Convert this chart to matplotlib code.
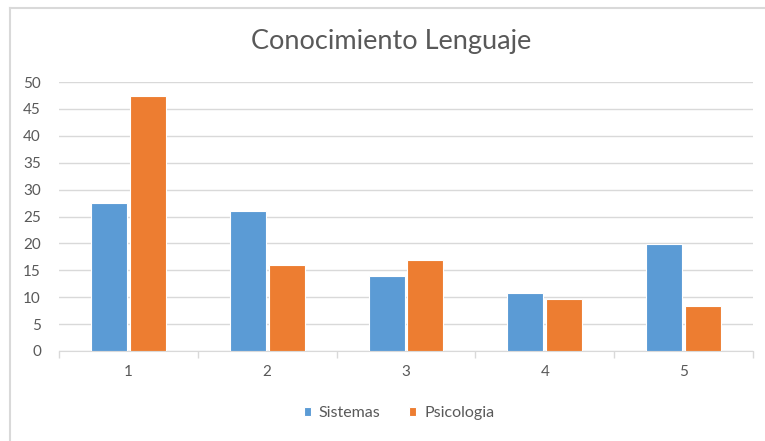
import matplotlib
matplotlib.use("Agg")
import matplotlib.pyplot as plt
from matplotlib.lines import Line2D
import numpy as np

# data
categories = ["1", "2", "3", "4", "5"]
sistemas = [27.5, 26.1, 14.0, 10.8, 19.9]
psicologia = [47.4, 15.9, 17.0, 9.7, 8.3]
yticks = [0, 5, 10, 15, 20, 25, 30, 35, 40, 45, 50]

plt.rcParams['font.family'] = ['Lato', 'DejaVu Sans']
txt = '#595959'
grid = '#D9D9D9'

fig = plt.figure(figsize=(7.65, 4.41), dpi=100)
W, H = 765, 441
ax = fig.add_axes([59 / W, 1 - 351 / H, (753 - 59) / W, (351 - 82) / H])

x = np.arange(len(categories))
w = 0.26
ax.bar(x - w / 2 - 0.01, sistemas, w, color='#5B9BD5', edgecolor='white', linewidth=0.8,
       label='Sistemas', zorder=3)
ax.bar(x + w / 2 + 0.01, psicologia, w, color='#ED7D31', edgecolor='white', linewidth=0.8,
       label='Psicologia', zorder=3)

ax.set_xlim(-0.5, len(categories) - 0.5)
ax.set_ylim(0, 50)
ax.set_yticks(yticks)
ax.set_xticks(x)
ax.set_xticklabels(categories)
ax.set_xticks(np.arange(-0.5, len(categories)), minor=True)
ax.yaxis.grid(True, color=grid, linewidth=1, zorder=0)
ax.tick_params(axis='y', length=0, labelsize=11, colors=txt, pad=13)
ax.tick_params(axis='x', which='major', length=0, labelsize=11, colors=txt, pad=10)
ax.tick_params(axis='x', which='minor', length=5, color=grid, width=1)
for s in ['top', 'right', 'left']:
    ax.spines[s].set_visible(False)
ax.spines['bottom'].set_color(grid)

fig.text(391 / W, 1 - 42 / H, 'Conocimiento Lenguaje', ha='center', va='center',
         fontsize=19.5, color=txt)

leg = fig.legend(loc='center', bbox_to_anchor=(399 / W, 1 - 413 / H), ncol=2, frameon=False,
                 fontsize=11.5, handlelength=0.45, handleheight=0.45, columnspacing=1.8,
                 handletextpad=0.5)
for t in leg.get_texts():
    t.set_color(txt)

# chart border (left and top only visible)
fig.add_artist(Line2D([10 / W, 10 / W], [0, 1 - 7.5 / H], color='#D9D9D9', linewidth=1.5,
                      transform=fig.transFigure))
fig.add_artist(Line2D([10 / W, 1], [1 - 7.5 / H, 1 - 7.5 / H], color='#D9D9D9', linewidth=1.5,
                      transform=fig.transFigure))

fig.savefig('out.png', dpi=100)
